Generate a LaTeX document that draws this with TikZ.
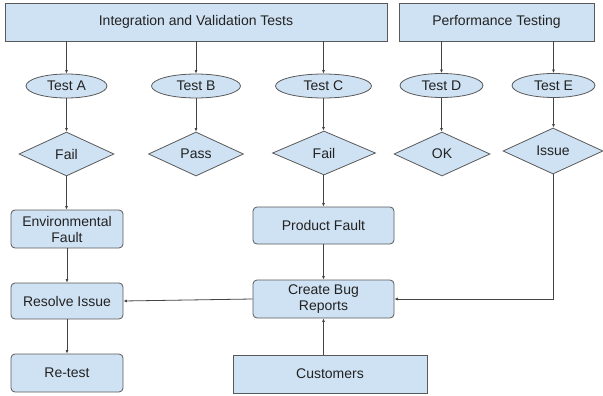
\documentclass[tikz,border=0pt]{standalone}
\usepackage{fontspec}
\setmainfont{Liberation Sans}
\usetikzlibrary{shapes.geometric,arrows.meta}
\definecolor{boxfill}{HTML}{CFE2F3}
\definecolor{boxline}{HTML}{595959}
\definecolor{txt}{HTML}{222222}
\definecolor{arr}{HTML}{444444}
\tikzset{
  base/.style={fill=boxfill, draw=boxline, line width=0.8pt, text=txt, inner sep=0pt,
    font=\fontsize{14}{16}\selectfont, align=center},
  sqbox/.style={base, rectangle},
  rbox/.style={base, rectangle, rounded corners=4pt},
  oval/.style={base, ellipse},
  dia/.style={base, diamond},
  conn/.style={draw=arr, line width=0.8pt, -{Latex[length=3.5pt,width=3pt]}}
}
\begin{document}
\begin{tikzpicture}[x=1pt,y=-1pt]
\useasboundingbox (0,0) rectangle (603,396);
\node[sqbox, minimum width=382pt, minimum height=38pt] (int) at (196,22) {Integration and Validation Tests};
\node[sqbox, minimum width=195pt, minimum height=38pt] (perf) at (496.5,22) {Performance Testing};

\node[oval, minimum width=81pt, minimum height=24pt] (tA) at (66.5,86) {Test A};
\node[oval, minimum width=89pt, minimum height=24pt] (tB) at (196,86) {Test B};
\node[oval, minimum width=96pt, minimum height=24pt] (tC) at (323.5,86) {Test C};
\node[oval, minimum width=83pt, minimum height=24pt] (tD) at (441.5,85.5) {Test D};
\node[oval, minimum width=83pt, minimum height=24pt] (tE) at (553.5,85.5) {Test E};

\node[dia, minimum width=95pt, minimum height=44pt] (dA) at (66.5,154) {Fail};
\node[dia, minimum width=95pt, minimum height=44pt] (dB) at (196,154) {Pass};
\node[dia, minimum width=103pt, minimum height=44pt] (dC) at (324,153) {Fail};
\node[dia, minimum width=96pt, minimum height=44pt] (dD) at (442,154) {OK};
\node[dia, minimum width=100pt, minimum height=46pt] (dE) at (553,151) {Issue};

\node[rbox, minimum width=112pt, minimum height=38pt] (env) at (67,229) {Environmental\\Fault};
\node[rbox, minimum width=141pt, minimum height=37pt] (prod) at (323.5,225.5) {Product Fault};
\node[rbox, minimum width=112pt, minimum height=36pt] (res) at (67,301) {Resolve Issue};
\node[rbox, minimum width=141pt, minimum height=38pt] (bug) at (323.5,299) {Create Bug\\Reports};
\node[rbox, minimum width=112pt, minimum height=38pt] (ret) at (67,373) {Re-test};
\node[sqbox, minimum width=194pt, minimum height=38pt] (cust) at (330,374) {Customers};

\draw[conn] (tA.north |- int.south) -- (tA.north);
\draw[conn] (tB.north |- int.south) -- (tB.north);
\draw[conn] (tC.north |- int.south) -- (tC.north);
\draw[conn] (tD.north |- perf.south) -- (tD.north);
\draw[conn] (tE.north |- perf.south) -- (tE.north);

\draw[conn] (tA) -- (dA);
\draw[conn] (tB) -- (dB);
\draw[conn] (tC.south) -- (tC.south |- dC.north);
\draw[conn] (tD.south) -- (tD.south |- dD.north);
\draw[conn] (tE.south) -- (tE.south |- dE.north);

\draw[conn] (dA.south) -- (dA.south |- env.north);
\draw[conn] (prod.north |- dC.south) -- (prod.north);
\draw[conn] (env) -- (res);
\draw[conn] (prod) -- (bug);
\draw[conn] (res) -- (ret);
\draw[conn] (bug.west) -- (res.east);
\draw[conn] (dE.south) |- (bug.east);
\draw[conn] (cust.north -| bug.south) -- (bug.south);
\end{tikzpicture}
\end{document}
